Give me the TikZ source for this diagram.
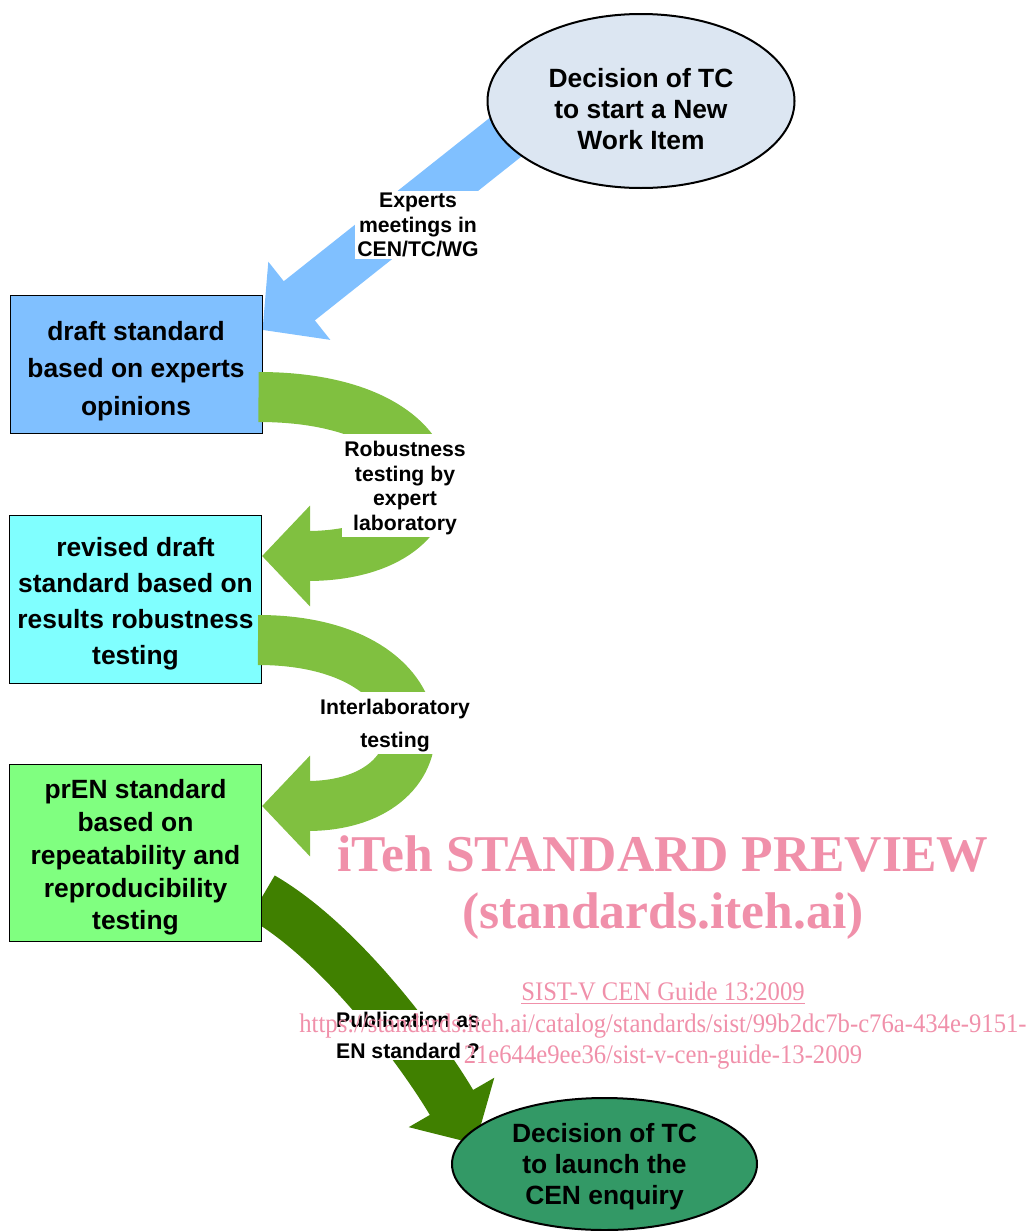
\documentclass[tikz,border=0pt]{standalone}
\usepackage{fontspec}
\setmainfont{Liberation Sans}
\newfontfamily\wmfont{Liberation Serif}
\newfontfamily\wmnarrow[FakeStretch=0.92]{Liberation Serif}
\usetikzlibrary{arrows.meta,shapes.geometric,backgrounds}

\definecolor{itemgrey}{HTML}{DCE6F2}
\definecolor{expertblue}{HTML}{80C0FF}
\definecolor{revcyan}{HTML}{80FFFF}
\definecolor{prengreen}{HTML}{80FF80}
\definecolor{testgreen}{HTML}{80C040}
\definecolor{pubgreen}{HTML}{408000}
\definecolor{enqgreen}{HTML}{339966}
\definecolor{wmpink}{HTML}{F090AA}

% extra room above the first line of a node text
\newcommand{\headroom}[1]{\rule{0pt}{#1}}

\begin{document}
\begin{tikzpicture}[
            x=0.5pt, y=0.5pt, % one unit = one pixel of the page
            stage/.style={draw, rectangle, line width=0.5pt, minimum width=126pt,
              align=center, inner sep=0pt},
            decision/.style={draw, ellipse, line width=1pt, align=center,
              inner sep=0pt, font=\bfseries\fontsize{13.2}{15.5}\selectfont},
            steplabel/.style={fill=white, align=center, inner sep=1pt,
              font=\bfseries\fontsize{10.6}{12.2}\selectfont},
            blockarrow/.style={line width=25pt,
              -{Triangle[length=24pt, width=49pt]}},
            wmark/.style={text=wmpink, anchor=base, inner sep=0pt}
            ]
            \useasboundingbox (0,0) rectangle (1026,-1231);

            \node[decision, fill=itemgrey, minimum width=153.5pt,
            minimum height=87pt] (newitem) at (641,-101)
            {\headroom{17.6pt}Decision of TC\\to start a New\\Work Item};
            \node[stage, fill=expertblue, minimum height=69pt,
            font=\bfseries\fontsize{13.2}{18.6}\selectfont] (draft) at (136,-364)
            {\headroom{16.6pt}draft standard\\based on experts\\opinions};
            \node[stage, fill=revcyan, minimum height=84pt,
            font=\bfseries\fontsize{13.2}{18}\selectfont] (revised) at (135.5,-599)
            {\headroom{14.6pt}revised draft\\standard based on\\results robustness\\testing};
            \node[stage, fill=prengreen, minimum height=88.5pt,
            font=\bfseries\fontsize{13.2}{16.4}\selectfont] (pren) at (135.5,-852.5)
            {\headroom{14.6pt}prEN standard\\based on\\repeatability and\\reproducibility\\testing};
            \node[decision, fill=enqgreen, minimum width=152.5pt,
            minimum height=66pt] (enquiry) at (604.5,-1164)
            {\headroom{12.4pt}Decision of TC\\to launch the\\CEN enquiry};

            % arrows that run under the ellipses
            \begin{scope}[on background layer]
            \draw[blockarrow, color=expertblue,
            -{Triangle[length=23.5pt, width=48.5pt]}]
            ([xshift=-40.5pt, yshift=3.5pt]newitem.center) -- ([yshift=17pt]draft.east);
            \draw[blockarrow, color=pubgreen, -{Triangle[length=24pt, width=48pt]}]
            ([yshift=-22.25pt]pren.east) to[out=-30, in=120, looseness=0.75]
            ([xshift=-64.5pt, yshift=10pt]enquiry.center);
            \end{scope}

            \draw[blockarrow, color=testgreen] ([xshift=-2pt, yshift=-16.5pt]draft.east)
            to[out=0, in=0, looseness=3.4] ([yshift=21.5pt]revised.east);
            \draw[blockarrow, color=testgreen] ([xshift=-2pt, yshift=-20.5pt]revised.east)
            to[out=0, in=0, looseness=2.95] ([yshift=23.25pt]pren.east);

            \node[steplabel] (lexperts) at (418,-225) {Experts\\meetings in\\CEN/TC/WG};
            \node[steplabel] (lrobust) at (405,-485)
            {\headroom{10.7pt}Robustness\\testing by\\expert\\laboratory};
            \node[steplabel, font=\bfseries\fontsize{10.6}{16.5}\selectfont]
            (linter) at (395,-723) {\headroom{10.7pt}Interlaboratory\\testing};
            \node[steplabel, font=\bfseries\fontsize{10.6}{15.5}\selectfont]
            (lpublish) at (408,-1035) {Publication as\\EN standard ?};

            % preview stamp
            \node[wmark, font=\wmfont\bfseries\fontsize{25.8}{30}\selectfont]
            (wm1) at (663,-871) {iTeh STANDARD PREVIEW};
            \node[wmark, font=\wmfont\bfseries\fontsize{25.8}{30}\selectfont]
            (wm2) at (663,-928) {(standards.iteh.ai)};
            \node[wmark, font=\wmnarrow\fontsize{13.4}{15}\selectfont]
            (wm3) at (663,-1000) {\underline{SIST-V CEN Guide 13:2009}};
            \node[wmark, font=\wmnarrow\fontsize{13.4}{15}\selectfont]
            (wm4) at (663,-1032)
            {https://standards.iteh.ai/catalog/standards/sist/99b2dc7b-c76a-434e-9151-};
            \node[wmark, font=\wmnarrow\fontsize{13.4}{15}\selectfont]
            (wm5) at (663,-1063) {21e644e9ee36/sist-v-cen-guide-13-2009};
\end{tikzpicture}
\end{document}
